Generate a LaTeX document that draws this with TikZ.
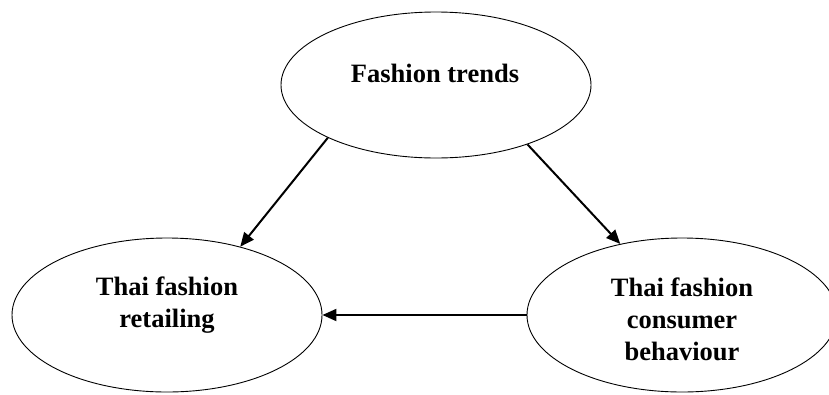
\documentclass[tikz,border=0pt]{standalone}
\usepackage{fontspec}
\setmainfont{Liberation Serif}
\usetikzlibrary{shapes.geometric,arrows.meta}
\begin{document}
\begin{tikzpicture}[x=1pt,y=-1pt,
  oval/.style={draw=black,line width=0.9pt,ellipse,minimum width=310pt,minimum height=154pt,inner sep=0pt},
  nodetext/.style={font=\bfseries\fontsize{26.5}{32}\selectfont,align=center,inner sep=0pt,anchor=base},
  link/.style={draw=black,line width=2pt,-{Triangle[length=14pt,width=12pt]}}]
\useasboundingbox (0,0) rectangle (829,394);
% the three concepts
\node[oval,minimum height=146pt] (trends) at (436,85) {};
\node[oval] (retail) at (167,315) {};
\node[oval] (consumer) at (682,315) {};
% multi-line captions are placed by the baseline of their last line
\node[nodetext] (trendsText) at (435,82) {Fashion trends};
\node[nodetext] (retailText) at (167,327) {Thai fashion\\retailing};
\node[nodetext] (consumerText) at (682,360) {Thai fashion\\consumer\\behaviour};
% influences between them
\draw[link] (trends.206.8) -- (retail.43.7);
\draw[link] (trends.-33) -- (consumer.131.8);
\draw[link] (consumer.west) -- (retail.east);
\end{tikzpicture}
\end{document}
